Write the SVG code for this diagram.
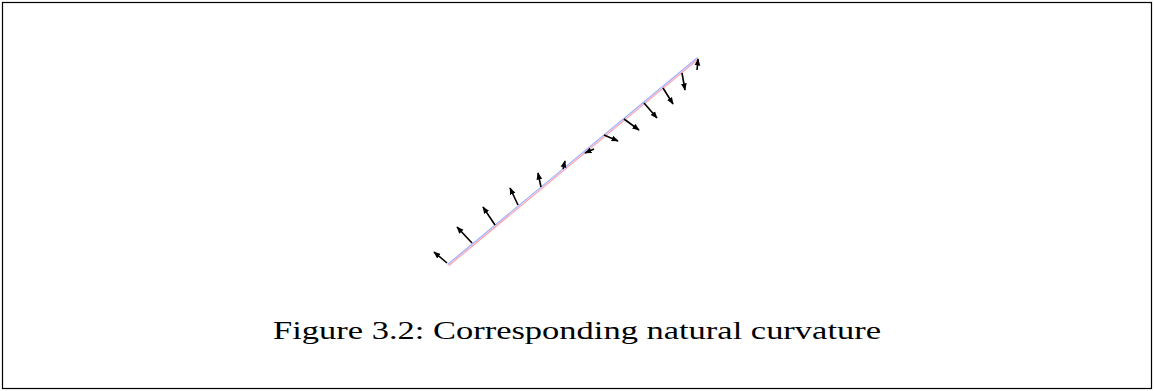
<svg xmlns="http://www.w3.org/2000/svg" width="1154" height="391" viewBox="0 0 1154 391">
<style>
.frame{fill:#fff;stroke:#000;stroke-width:1.2}
.vec{stroke:#000;stroke-width:1.6;fill:none;marker-end:url(#ah)}
.cap{font-family:"Liberation Serif","DejaVu Serif",serif;font-size:25px;fill:#000}
</style>
<defs>
<marker id="ah" viewBox="0 0 10 10" refX="9" refY="5" markerWidth="4.5" markerHeight="4.5" orient="auto" markerUnits="strokeWidth">
<path d="M0,1 L10,5 L0,9 Z" fill="#000"/>
</marker>
</defs>
<rect class="frame" x="2.5" y="2.5" width="1149" height="386"/>
<g id="curve">
<line x1="447.6" y1="264.5" x2="697.6" y2="57.5" stroke="#9db2ff" stroke-width="1.3"/>
<line x1="448.6" y1="265.7" x2="698.6" y2="58.7" stroke="#ffa3ae" stroke-width="1.3"/>
</g>
<g id="connectors">
<line class="vec" x1="447" y1="263" x2="434" y2="252"/>
<line class="vec" x1="472" y1="243" x2="457" y2="227"/>
<line class="vec" x1="495" y1="225" x2="483" y2="207"/>
<line class="vec" x1="518" y1="205" x2="510" y2="188"/>
<line class="vec" x1="541" y1="187" x2="538" y2="173"/>
<line class="vec" x1="563" y1="169" x2="565" y2="161"/>
<line class="vec" x1="594" y1="149" x2="585" y2="153"/>
<line class="vec" x1="604" y1="135" x2="618" y2="141"/>
<line class="vec" x1="624" y1="119" x2="639" y2="130"/>
<line class="vec" x1="644" y1="103" x2="657" y2="118"/>
<line class="vec" x1="663" y1="88" x2="673" y2="104"/>
<line class="vec" x1="682" y1="73" x2="685" y2="90"/>
<line class="vec" x1="697" y1="70" x2="698" y2="59"/>
</g>
<text class="cap" x="577" y="339" text-anchor="middle" textLength="608" lengthAdjust="spacingAndGlyphs">Figure 3.2: Corresponding natural curvature</text>
</svg>
